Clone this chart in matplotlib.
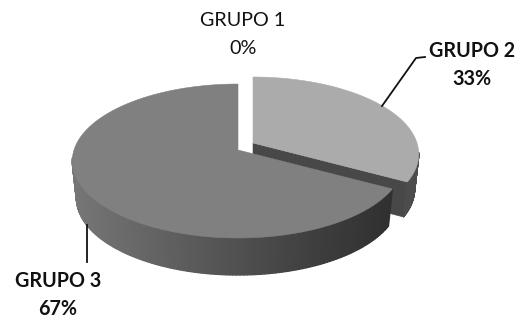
import numpy as np
import matplotlib
matplotlib.use("Agg")
import matplotlib.pyplot as plt
from matplotlib.collections import PolyCollection
from matplotlib.patches import Polygon

groups = ["GRUPO 1", "GRUPO 2", "GRUPO 3"]
shares = [0, 33, 67]

RX, RY, PERSP = 164.0, 75.4, 1 / 7
DEPTH = 37.0
BASE_SCALE = 0.975  # lower rim recedes slightly under the tilt


def project(theta, apex, radius=1.0):
    """Map a clockwise-from-top pie angle to the tilted disc."""
    u, v = radius * np.sin(theta), radius * np.cos(theta)
    k = 1 / (1 + PERSP * v)
    return apex[0] + RX * u * k, apex[1] - RY * v * k


def gray(level):
    return (level / 255,) * 3


def side_level(x, x0, x1, stops):
    t = np.clip((x - x0) / (x1 - x0), 0, 1)
    return np.interp(t, [s[0] for s in stops], [s[1] for s in stops])


def draw_slice(ax, start, stop, apex, top, stops, depth, cut=None):
    theta = np.linspace(start, stop, 220)
    xs, ys = project(theta, apex)
    bx = apex[0] + (xs - apex[0]) * BASE_SCALE
    if cut is not None:
        ax.add_patch(Polygon([apex, (xs[-1], ys[-1]), (bx[-1], ys[-1] + depth),
                              (apex[0], apex[1] + depth)],
                             closed=True, fc=gray(cut), ec=gray(cut), lw=0.4))
    quads, colors = [], []
    for i in range(len(theta) - 1):
        # Only the front part of the wall can be seen
        if np.cos(theta[i]) > -0.12:
            continue
        quads.append([(xs[i], ys[i]), (xs[i + 1], ys[i + 1]),
                      (bx[i + 1], ys[i + 1] + depth), (bx[i], ys[i] + depth)])
        colors.append(gray(side_level(xs[i], 72, 392, stops)))
    ax.add_collection(PolyCollection(quads, facecolors=colors, edgecolors=colors,
                                     linewidths=1.0))
    outline = [apex] + list(zip(xs, ys))
    ax.add_patch(Polygon(outline, closed=True, fc=gray(top), ec=gray(top), lw=0.4))


fig = plt.figure(figsize=(5.24, 3.2), dpi=100)
ax = fig.add_axes([0, 0, 1, 1])
ax.set_xlim(0, 524)
ax.set_ylim(320, 0)
ax.axis("off")

cum = np.cumsum(shares) / sum(shares) * 2 * np.pi

# Leader lines run beneath the pie edge
ax.plot([382, 416, 425], [106, 58, 57], color="#111111", lw=1.3)
ax.plot([87, 87], [225, 262], color="#111111", lw=1.3)

# Smaller slice sits behind and is pulled out to the upper right
draw_slice(ax, cum[0], cum[1], (253, 143), 171,
           [(0, 76), (1, 76)], 35, cut=72)
draw_slice(ax, cum[1], cum[2], (238, 150), 128,
           [(0, 118), (0.25, 100), (0.55, 78), (0.8, 60), (1, 48)], DEPTH)

font = ["Lato", "DejaVu Sans"]
label_pos = [(243, 21), (472, 51), (58, 281)]
weights = ["normal", "bold", "bold"]
for name, share, (x, y), w in zip(groups, shares, label_pos, weights):
    ax.text(x, y, name, ha="center", va="center", fontsize=14.2, family=font, weight=w, color="#111111")
    ax.text(x, y + 28, f"{share}%", ha="center", va="center", fontsize=14.2, family=font, weight=w, color="#111111")

fig.savefig("out.png", dpi=100, facecolor="white")
